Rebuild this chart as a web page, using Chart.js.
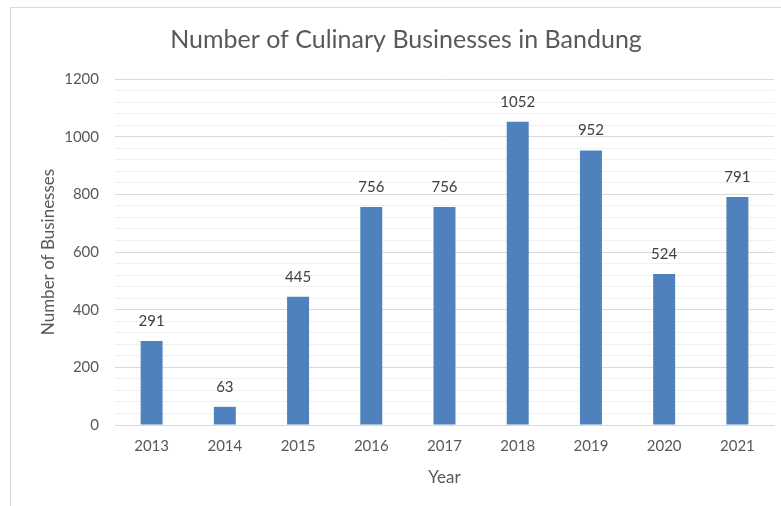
<!DOCTYPE html>
<html><head><meta charset="utf-8">
<script src="https://cdn.jsdelivr.net/npm/chart.js@4/dist/chart.umd.min.js"></script>
<style>
html,body{margin:0;padding:0;background:#fff;}
#wrap{position:relative;width:781px;height:506px;overflow:hidden;}
#frame{position:absolute;left:10px;top:7px;width:820px;height:560px;border:1px solid #d9d9d9;box-sizing:border-box;}
canvas{position:absolute;left:0;top:0;}
</style></head>
<body><div id="wrap"><div id="frame"></div><canvas id="c" width="781" height="506"></canvas></div>
<script>
const categories = ["2013","2014","2015","2016","2017","2018","2019","2020","2021"];
const businesses = [291, 63, 445, 756, 756, 1052, 952, 524, 791];
const yTickLabels = [0, 200, 400, 600, 800, 1000, 1200];
const chartTitle = "Number of Culinary Businesses in Bandung";
const xTitle = "Year";
const yTitle = "Number of Businesses";

const FONT = "Lato";
const labelPlugin = {
  id: 'barLabels',
  afterDatasetsDraw(chart) {
    const ctx = chart.ctx;
    const meta = chart.getDatasetMeta(0);
    ctx.save();
    ctx.font = "15px " + FONT;
    ctx.fillStyle = "#404040";
    ctx.textAlign = "center";
    ctx.textBaseline = "middle";
    meta.data.forEach((bar, i) => {
      ctx.fillText(String(chart.data.datasets[0].data[i]), bar.x, bar.y - 20);
    });
    ctx.restore();
  }
};

new Chart(document.getElementById('c'), {
  type: 'bar',
  data: {
    labels: categories,
    datasets: [{
      data: businesses,
      backgroundColor: '#4f81bd',
      borderWidth: 0,
      categoryPercentage: 1,
      barPercentage: 0.3
    }]
  },
  options: {
    responsive: false,
    animation: false,
    layout: { padding: { left: 38, right: 7, top: 25, bottom: 18 } },
    plugins: {
      legend: { display: false },
      tooltip: { enabled: false },
      title: {
        display: true, text: chartTitle, color: '#595959',
        font: { family: FONT, size: 25, weight: 'normal' },
        padding: { top: 0, bottom: 24 }
      }
    },
    scales: {
      x: {
        grid: { display: false, drawTicks: false },
        border: { display: true, color: '#d9d9d9', width: 1 },
        ticks: { color: '#595959', font: { family: FONT, size: 15 }, padding: 12 },
        title: { display: true, text: xTitle, color: '#595959', font: { family: FONT, size: 17 }, padding: { top: 12, bottom: 0 } },
        afterFit(s) { s.height = 506 - 425 - 18; }
      },
      y: {
        min: 0, max: 1200,
        border: { display: false },
        grid: {
          drawTicks: false,
          color: (c) => (c.tick && c.tick.value % 200 === 0) ? '#d9d9d9' : '#f0f0f0',
          lineWidth: 1
        },
        ticks: {
          stepSize: 40, autoSkip: false, padding: 16,
          color: '#595959', font: { family: FONT, size: 15 },
          callback: (v) => yTickLabels.includes(v) ? String(v) : ''
        },
        title: { display: true, text: yTitle, color: '#595959', font: { family: FONT, size: 17 }, padding: { top: 0, bottom: 0 } },
        afterFit(s) { s.width = 115 - 38; }
      }
    }
  },
  plugins: [labelPlugin]
});
</script></body></html>
